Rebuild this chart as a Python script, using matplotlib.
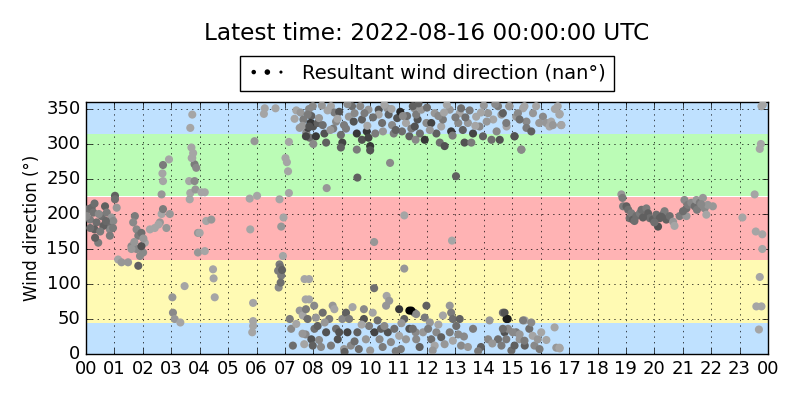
import matplotlib
matplotlib.use("Agg")
import matplotlib.pyplot as plt

# hours since 2022-08-15 00:00 UTC, direction in degrees, grey shade of the dot
night_hours = [0.08, 0.2, 0.26, 0.14, 0.37, 0.3, 0.43, 0.32, 0.55, 0.67, 0.73, 0.78, 0.84, 0.61, 0.9,
               1.02, 1.02, 1.08, 0.84, 0.96, 0.02, 0.5, 0.7, 0.45, 0.15, 0.95, 0.3,
               1.13, 1.25, 1.48, 1.6, 1.72, 1.66, 1.78, 1.84, 1.95, 1.84, 1.78, 2.01, 2.07, 1.95, 1.6,
               1.9, 1.7, 2.02, 2.25, 2.42, 2.6, 2.66, 2.71, 2.66, 2.71, 2.69, 2.71, 2.92, 2.95, 2.83, 2.55,
               3.04, 3.06, 3.12, 3.32, 3.47, 3.65, 3.67, 3.63, 3.74, 3.67, 3.71, 3.77, 3.74, 3.82, 3.88,
               3.85, 3.94, 3.94, 3.82, 3.72]
night_dir = [207, 209, 202, 192, 188, 178, 159, 166, 197, 211, 202, 185, 178, 183, 195,
             226, 221, 209, 169, 190, 197, 175, 190, 200, 180, 180, 215,
             135, 131, 131, 154, 197, 188, 178, 169, 173, 126, 150, 145, 159, 154, 150,
             140, 160, 165, 178, 180, 188, 200, 207, 228, 247, 258, 270, 278, 200, 180, 185,
             81, 59, 50, 45, 97, 221, 230, 247, 342, 323, 295, 287, 280, 271, 266,
             235, 173, 145, 247, 280]
night_shade = [.4, .38, .42, .45, .4, .35, .45, .35, .4, .35, .45, .4, .5, .35, .55,
               .35, .4, .55, .45, .5, .5, .45, .38, .5, .4, .45, .4,
               .6, .55, .55, .5, .45, .5, .5, .45, .4, .35, .5, .5, .6, .3, .55,
               .5, .55, .55, .6, .6, .55, .6, .45, .55, .6, .6, .45, .6, .55, .55, .6,
               .55, .5, .55, .6, .6, .6, .6, .6, .6, .6, .6, .6, .6, .45, .5,
               .55, .55, .55, .5, .6]

morning_hours = [4.06, 4.18, 4.23, 4.41, 4.0, 4.18, 4.47, 4.49, 4.53,
                 5.76, 6.02, 5.78, 5.93, 5.88, 5.88, 5.88, 5.85,
                 6.29, 6.67, 6.26, 6.81, 6.95, 6.87, 6.93, 6.81, 6.84, 6.76, 6.87, 6.78, 6.9, 6.85,
                 7.14, 7.02, 7.07, 7.11, 7.14, 7.34,
                 7.17, 7.22, 7.4, 7.28, 7.69, 7.73, 7.52, 7.63, 7.73,
                 7.52, 7.75, 7.87, 7.93, 7.99, 7.81, 8.04, 7.93,
                 7.4, 7.55, 7.65, 7.85, 7.9]
morning_dir = [231, 231, 190, 192, 173, 147, 121, 108, 81,
               222, 226, 178, 304, 73, 47, 40, 31,
               351, 351, 343, 221, 195, 182, 140, 128, 124, 119, 112, 95, 120, 102,
               303, 280, 274, 261, 230, 336,
               50, 36, 43, 12, 107, 78, 62, 55, 28,
               323, 316, 309, 340, 325, 323, 36, 21,
               348, 345, 335, 350, 330]
morning_shade = [.6, .6, .6, .55, .6, .6, .6, .6, .6,
                 .6, .6, .6, .55, .6, .6, .6, .6,
                 .6, .6, .6, .6, .6, .55, .6, .45, .4, .45, .45, .5, .35, .4,
                 .6, .6, .6, .6, .6, .6,
                 .45, .5, .6, .4, .6, .6, .55, .6, .5,
                 .55, .5, .4, .35, .3, .25, .4, .3,
                 .6, .55, .45, .5, .2]

midday_hours = [7.62, 7.8, 7.86, 7.74, 7.98, 8.15, 8.09, 8.2, 8.33, 8.39, 8.45, 8.62, 8.74, 8.8, 8.91,
                8.97, 9.02, 8.97, 9.08, 9.25, 9.36, 9.42, 9.53, 9.53, 9.65, 9.71, 9.71, 9.88, 9.94,
                9.94, 10.0, 10.0, 10.18, 10.3, 10.3, 10.42, 10.6, 10.65, 10.77, 10.83, 10.95, 11.06,
                11.12, 11.26, 11.38, 11.55, 11.6, 11.67,
                8.5, 8.3, 9.2, 9.8, 10.5, 10.9, 11.3, 8.0, 8.7,
                8.6, 8.85, 9.15, 9.45, 9.9, 10.1, 10.45, 10.75, 11.15, 11.45,
                10.7, 9.55, 8.47, 11.2, 10.14, 11.2, 7.85, 7.85, 10.14, 10.58, 10.67, 11.38,
                7.74, 8.03, 8.09, 8.15, 8.33, 8.45, 8.56, 8.68, 8.74, 8.8, 8.86, 9.02, 9.15, 9.2,
                9.26, 9.32, 9.38, 9.55, 9.6, 9.78, 9.78, 9.85, 9.96, 10.09, 10.15, 10.26, 10.33,
                10.38, 10.44, 10.56, 10.62, 10.73, 10.85, 11.02, 11.02, 11.08, 11.2, 11.26, 11.38,
                11.55, 11.6, 7.62, 7.68, 7.8, 7.98, 8.27, 8.62, 8.91, 9.08,
                8.2, 9.45, 10.0, 10.9, 9.1, 8.4, 9.7, 10.5, 11.1]
midday_dir = [326, 342, 325, 311, 354, 330, 311, 337, 327, 315, 302, 354, 345, 332, 346,
              313, 302, 295, 327, 339, 354, 332, 315, 292, 354, 335, 306, 318, 349,
              309, 297, 291, 315, 349, 342, 330, 351, 342, 327, 315, 337, 346,
              318, 330, 311, 351, 306, 335,
              348, 355, 357, 344, 356, 320, 340, 300, 322,
              320, 336, 322, 344, 326, 338, 318, 350, 340, 322,
              273, 252, 237, 198, 160, 122, 107, 78, 94, 83, 76, 62,
              64, 69, 52, 40, 59, 31, 50, 69, 64, 36, 21, 50, 59, 31,
              50, 12, 67, 31, 7, 64, 50, 21, 40, 59, 31, 48, 21,
              36, 10, 69, 31, 17, 36, 64, 26, 7, 50, 21, 36,
              59, 31, 29, 14, 50, 12, 10, 12, 31, 7,
              20, 18, 5, 4, 3, 45, 42, 40, 44]
midday_shade = [.55, .45, .3, .25, .5, .35, .2, .55, .4, .3, .35, .6, .45, .5, .3,
                .4, .25, .35, .45, .55, .4, .3, .2, .45, .5, .35, .3, .2, .55,
                .25, .2, .3, .45, .3, .6, .4, .55, .35, .5, .45, .3, .15,
                .4, .6, .35, .55, .5, .3,
                .6, .55, .5, .45, .6, .35, .4, .5, .45,
                .55, .6, .45, .5, .6, .4, .55, .6, .5, .45,
                .5, .35, .55, .6, .55, .55, .6, .6, .4, .6, .55, .0,
                .45, .5, .55, .35, .4, .3, .45, .55, .6, .4, .3, .5, .35, .25,
                .45, .5, .6, .35, .4, .5, .3, .55, .45, .6, .25, .4, .5,
                .35, .45, .55, .3, .5, .4, .2, .6, .45, .35, .55, .3,
                .45, .5, .55, .6, .4, .35, .5, .45, .3, .55,
                .5, .4, .55, .45, .35, .55, .6, .5, .55]

afternoon_hours = [11.5, 11.62, 11.8, 11.57, 11.75, 11.92, 11.98, 12.15, 12.27, 12.33, 12.45, 12.5,
                   12.56, 12.62, 12.8, 12.85, 13.1, 13.15, 13.2, 13.26, 13.32, 13.44, 13.56, 13.62,
                   13.73, 13.85, 13.97, 14.15, 14.27, 14.33, 14.5, 14.56, 14.62, 14.8, 14.9, 15.08,
                   15.14, 15.32, 15.38, 15.5, 12.0, 12.7, 13.5, 14.0, 14.4, 11.7, 12.4, 13.0, 13.9,
                   12.1, 12.9, 13.7, 14.45, 14.1, 13.35, 12.6,
                   13.02, 12.88,
                   11.45, 11.62, 11.98, 11.92, 12.1, 12.56, 12.8, 12.85, 12.91, 13.15, 14.67, 14.8,
                   11.5, 11.62, 11.74, 11.86, 12.04, 12.15, 12.27, 12.33, 12.5, 12.62, 12.8, 12.91,
                   13.03, 13.2, 13.44, 13.62, 13.9, 14.15, 14.2, 14.5, 14.62, 14.73, 14.85, 14.97,
                   15.14, 15.26, 15.44, 15.44, 13.3, 13.8, 12.2, 12.4, 13.1, 14.3]
afternoon_dir = [354, 342, 349, 325, 315, 306, 330, 330, 344, 315, 302, 325,
                 335, 297, 349, 318, 330, 344, 351, 320, 302, 330, 302, 315,
                 339, 325, 311, 344, 306, 335, 354, 306, 342, 325, 354, 311,
                 339, 292, 351, 332, 352, 356, 348, 355, 357, 358, 340, 338, 345,
                 320, 312, 326, 318, 332, 338, 345,
                 254, 162,
                 62, 57, 69, 52, 45, 55, 69, 59, 50, 50, 59, 50,
                 36, 21, 10, 31, 36, 21, 12, 31, 24, 14, 31, 19,
                 40, 12, 10, 36, 10, 21, 48, 21, 12, 31, 36, 5,
                 31, 21, 48, 12, 25, 4, 5, 42, 28, 15]
afternoon_shade = [.35, .45, .55, .3, .4, .2, .5, .25, .55, .35, .4, .6,
                   .45, .3, .55, .2, .5, .6, .4, .35, .3, .55, .45, .25,
                   .6, .5, .35, .55, .4, .6, .45, .3, .55, .6, .5, .35,
                   .55, .45, .6, .5, .4, .6, .45, .55, .5, .35, .5, .45, .6,
                   .55, .45, .6, .5, .55, .4, .6,
                   .35, .6,
                   .0, .5, .35, .45, .55, .6, .55, .45, .4, .35, .4, .1,
                   .4, .5, .35, .55, .45, .4, .6, .5, .35, .55, .45, .6,
                   .4, .5, .55, .45, .35, .5, .55, .4, .45, .3, .5, .4,
                   .45, .55, .6, .35, .5, .45, .55, .6, .5, .55]

late_hours = [14.67, 14.79, 14.9, 15.08, 15.2, 15.26, 15.43, 15.5, 15.67, 15.73, 15.84, 16.08,
              16.2, 16.31, 16.37, 16.43, 16.66, 16.72, 16.6, 15.32, 15.95, 16.5,
              14.73, 14.84, 14.67, 14.79, 15.02, 15.08, 15.26, 15.43, 15.6, 15.72, 15.78, 15.9,
              16.02, 15.96, 16.49, 16.55, 16.66, 15.38, 15.67, 16.2, 16.67, 16.73, 16.67]
late_dir = [344, 330, 354, 311, 344, 335, 354, 323, 318, 344, 354, 339,
            330, 325, 332, 327, 342, 327, 354, 292, 330, 350,
            59, 50, 36, 21, 31, 12, 28, 19, 36, 26, 12, 21,
            31, 7, 38, 9, 9, 48, 45, 20, 343, 327, 8]
late_shade = [.35, .45, .55, .3, .5, .4, .6, .45, .35, .55, .6, .5,
              .55, .6, .6, .55, .6, .55, .6, .5, .55, .6,
              .3, .1, .4, .45, .5, .35, .55, .45, .4, .6, .5, .55,
              .6, .45, .6, .55, .6, .45, .5, .6, .6, .6, .6]

evening_hours = [18.84, 18.88, 18.9, 19.02, 19.08, 19.13, 19.19, 19.25, 19.37, 19.49, 19.55, 19.72,
                 19.78, 19.84, 19.95, 20.07, 20.13, 20.19, 20.3, 20.36, 20.42, 20.54, 20.66, 20.71,
                 20.89, 21.06, 21.13, 21.18, 21.3, 21.42, 21.48, 21.6, 21.71, 21.77, 21.83, 21.88,
                 22.06, 21.13, 21.01, 19.3, 19.6, 20.0, 20.25, 21.5, 21.65,
                 23.1, 23.53, 23.57, 23.8, 23.8, 23.71, 23.59, 23.77, 23.68, 23.75, 23.71, 23.77, 23.82]
evening_dir = [228, 223, 211, 211, 206, 194, 201, 192, 197, 201, 206, 208,
               201, 194, 192, 199, 182, 194, 199, 204, 192, 197, 189, 183,
               197, 220, 208, 213, 216, 211, 220, 216, 223, 208, 199, 213,
               211, 197, 204, 190, 195, 188, 196, 206, 214,
               195, 228, 175, 171, 150, 110, 68, 68, 35, 300, 293, 354, 356]
evening_shade = [.55, .45, .45, .35, .4, .4, .45, .35, .4, .45, .4, .45,
                 .35, .4, .35, .4, .3, .35, .4, .45, .35, .4, .55, .6,
                 .45, .5, .4, .45, .5, .4, .55, .45, .55, .5, .6, .55,
                 .55, .55, .4, .4, .35, .4, .35, .45, .5,
                 .6, .6, .6, .6, .6, .6, .6, .6, .6, .6, .6, .6, .6]

hour_labels = ["%02d" % (h % 24) for h in range(25)]

plt.style.use("classic")
fig = plt.figure(figsize=(8, 4), dpi=100)
ax = fig.add_axes([0.1075, 0.115, 0.8525, 0.63])

# direction sectors
ax.axhspan(0, 45, color="#bfe1ff", zorder=0, lw=0)
ax.axhspan(45, 135, color="#fffab3", zorder=0, lw=0)
ax.axhspan(135, 225, color="#ffb3b4", zorder=0, lw=0)
ax.axhspan(225, 315, color="#bbfcb6", zorder=0, lw=0)
ax.axhspan(315, 360, color="#bfe1ff", zorder=0, lw=0)

groups = [(night_hours, night_dir, night_shade),
          (morning_hours, morning_dir, morning_shade),
          (midday_hours, midday_dir, midday_shade),
          (afternoon_hours, afternoon_dir, afternoon_shade),
          (late_hours, late_dir, late_shade),
          (evening_hours, evening_dir, evening_shade)]
for hrs, dirs, shade in groups:
    ax.scatter(hrs, dirs, c=shade, cmap="gray", vmin=0, vmax=0.93, s=34,
               edgecolors="none", zorder=3)

# legend handle only (nan points are not drawn)
nan = float("nan")
ax.scatter([nan, nan, nan], [nan, nan, nan], s=[10, 16, 5], c="k", edgecolors="none",
           label="Resultant wind direction (nan°)")

ax.set_xlim(0, 24)
ax.set_ylim(0, 360)
ax.set_xticks(range(25))
ax.set_xticklabels(hour_labels)
ax.set_yticks(range(0, 351, 50))
ax.tick_params(labelsize=13)
ax.grid(True, color="k", linestyle=":", zorder=1)
ax.set_axisbelow(True)
ax.set_ylabel("Wind direction (°)", labelpad=4)

ax.legend(loc="lower center", bbox_to_anchor=(0.5, 1.045), scatterpoints=3,
          scatteryoffsets=[0.5], fontsize=14, borderaxespad=0)
ax.text(0.5, 1.27, "Latest time: 2022-08-16 00:00:00 UTC", transform=ax.transAxes,
        ha="center", va="center", fontsize=16.7)

fig.savefig("out.png", dpi=100)
